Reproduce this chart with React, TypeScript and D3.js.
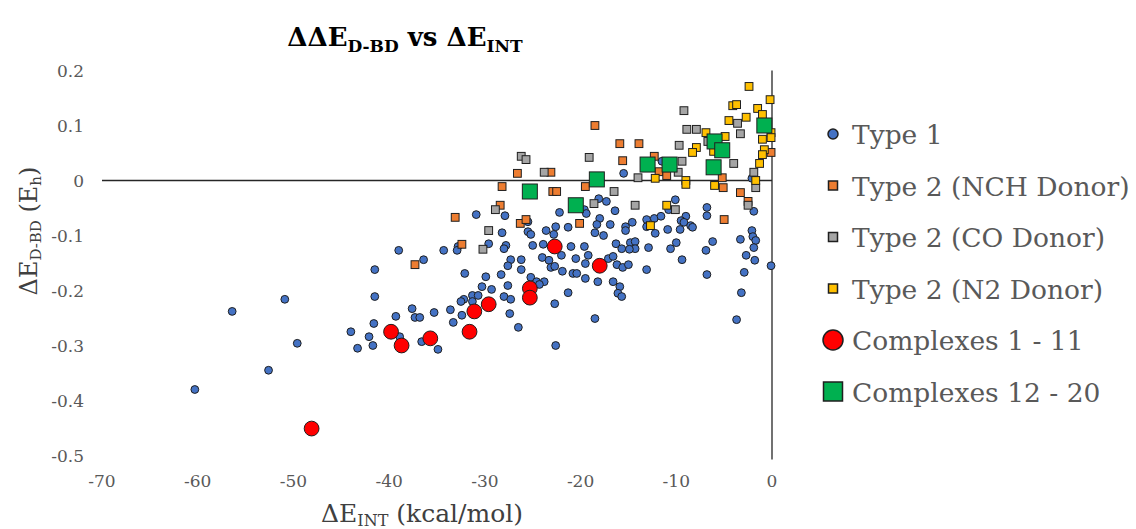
import React, { useRef, useEffect } from "react";
import * as d3 from "d3";

// [ΔE_INT (kcal/mol), ΔE_D-BD (Eh)]
const type1 = [
  [-41.5, -0.162], [-41.5, -0.211], [-50.9, -0.216], [-56.4, -0.238], [-41.6, -0.26],
  [-44.0, -0.275], [-42.1, -0.284], [-49.6, -0.296], [-43.3, -0.305], [-41.7, -0.3],
  [-52.6, -0.345], [-60.3, -0.38], [-30.9, -0.062], [-27.9, -0.064], [-28.2, -0.095],
  [-32.8, -0.12], [-29.6, -0.115], [-27.8, -0.118], [-28.0, -0.124], [-34.3, -0.127],
  [-32.9, -0.127], [-39.0, -0.127], [-36.4, -0.144], [-27.3, -0.144], [-27.6, -0.155],
  [-32.1, -0.169], [-29.9, -0.175], [-28.3, -0.171], [-30.3, -0.193], [-29.3, -0.198],
  [-27.6, -0.191], [-31.3, -0.209], [-30.7, -0.209], [-32.2, -0.216], [-32.5, -0.22],
  [-31.3, -0.22], [-28.0, -0.211], [-27.3, -0.216], [-37.6, -0.233], [-33.6, -0.235],
  [-39.3, -0.247], [-37.3, -0.249], [-36.8, -0.249], [-35.3, -0.24], [-32.4, -0.245],
  [-27.4, -0.242], [-33.3, -0.258], [-38.9, -0.284], [-36.6, -0.293], [-34.9, -0.307],
  [-15.5, 0.013], [-18.1, -0.033], [-17.3, -0.038], [-19.6, -0.053], [-19.4, -0.06],
  [-22.2, -0.058], [-16.4, -0.055], [-25.5, -0.075], [-18.0, -0.069], [-18.3, -0.08],
  [-16.9, -0.08], [-22.6, -0.084], [-21.3, -0.085], [-15.3, -0.084], [-14.6, -0.076],
  [-13.1, -0.071], [-23.6, -0.091], [-25.5, -0.093], [-25.2, -0.098], [-22.8, -0.098],
  [-18.5, -0.095], [-17.6, -0.1], [-15.3, -0.091], [-25.0, -0.118], [-23.9, -0.116],
  [-21.0, -0.12], [-19.6, -0.12], [-16.3, -0.115], [-15.7, -0.124], [-14.8, -0.113],
  [-14.3, -0.111], [-14.3, -0.124], [-14.9, -0.125], [-12.9, -0.122], [-24.0, -0.14],
  [-22.0, -0.136], [-19.2, -0.136], [-20.5, -0.142], [-26.2, -0.144], [-23.3, -0.145],
  [-17.1, -0.142], [-16.6, -0.138], [-16.2, -0.153], [-15.6, -0.158], [-15.0, -0.153],
  [-13.1, -0.162], [-23.1, -0.158], [-22.7, -0.156], [-19.5, -0.151], [-26.2, -0.162],
  [-21.9, -0.165], [-20.8, -0.169], [-20.4, -0.169], [-19.5, -0.178], [-18.2, -0.184],
  [-16.6, -0.184], [-25.2, -0.176], [-24.6, -0.184], [-23.8, -0.184], [-24.3, -0.189],
  [-21.3, -0.204], [-15.9, -0.193], [-16.1, -0.205], [-15.7, -0.211], [-22.7, -0.224],
  [-18.5, -0.251], [-26.5, -0.267], [-22.6, -0.3], [-10.1, -0.035], [-10.8, -0.053],
  [-6.8, -0.049], [-6.8, -0.064], [-12.3, -0.069], [-11.6, -0.065], [-9.0, -0.065],
  [-9.5, -0.073], [-9.2, -0.076], [-8.5, -0.082], [-8.3, -0.085], [-13.1, -0.084],
  [-12.2, -0.096], [-10.9, -0.089], [-9.6, -0.089], [-2.1, -0.091], [-2.0, -0.102],
  [-1.7, -0.109], [-3.3, -0.107], [-6.2, -0.111], [-10.0, -0.113], [-10.6, -0.124],
  [-6.9, -0.127], [-1.9, -0.122], [-2.7, -0.136], [-1.8, -0.145], [-9.4, -0.144],
  [-6.8, -0.171], [-2.9, -0.167], [-0.1, -0.155], [-3.2, -0.204], [-3.7, -0.253],
  [-1.9, -0.056], [-11.5, 0.035], [-2.1, 0.004],
];

const type2NCH = [
  [-28.2, -0.011], [-28.4, -0.045], [-33.1, -0.067], [-26.3, -0.078], [-25.7, -0.071],
  [-32.4, -0.116], [-37.3, -0.153], [-26.6, 0.013], [-23.1, 0.015], [-19.5, -0.011],
  [-22.9, -0.02], [-22.5, -0.02], [-20.1, -0.078], [-18.5, 0.1], [-15.9, 0.067],
  [-13.9, 0.067], [-15.6, 0.036], [-12.3, 0.044], [-11.8, 0.016], [-11.0, 0.009],
  [-5.2, 0.005], [-5.1, -0.013], [-3.3, -0.022], [-2.5, -0.038], [-5.0, -0.071],
  [-0.1, 0.051],
];

const type2CO = [
  [-28.9, -0.053], [-29.6, -0.091], [-30.2, -0.125], [-26.2, 0.044], [-25.7, 0.038],
  [-23.8, 0.015], [-19.1, 0.042], [-16.5, -0.02], [-18.6, -0.042], [-14.0, 0.005],
  [-14.3, -0.045], [-10.1, -0.053], [-9.8, 0.015], [-9.4, 0.035], [-9.2, 0.127],
  [-8.9, 0.093], [-7.9, 0.093], [-6.7, 0.071], [-9.7, 0.064], [-4.0, 0.031],
  [-3.6, 0.104], [-3.3, 0.085], [-1.9, 0.015], [-1.7, -0.013], [-2.5, -0.045],
];

const type2N2 = [
  [-2.4, 0.171], [-0.2, 0.147], [-4.1, 0.136], [-3.7, 0.138], [-1.5, 0.131],
  [-1.0, 0.12], [-2.7, 0.115], [-4.5, 0.109], [-6.9, 0.087], [-0.1, 0.087],
  [-0.1, 0.078], [-4.9, 0.08], [-1.0, 0.075], [-7.9, 0.06], [-8.3, 0.051],
  [-6.1, 0.053], [-0.8, 0.056], [-1.0, 0.047], [-1.3, 0.031], [-12.2, 0.004],
  [-1.7, 0.0], [-9.0, 0.0], [-9.0, -0.007], [-6.0, -0.009], [-11.0, -0.045],
  [-12.7, -0.082],
];

const complexes1to11 = [
  [-48.1, -0.451], [-39.8, -0.275], [-38.7, -0.3], [-35.7, -0.287], [-31.6, -0.275],
  [-31.1, -0.238], [-29.6, -0.225], [-25.3, -0.196], [-25.3, -0.213], [-22.7, -0.12],
  [-18.0, -0.155],
];

const complexes12to20 = [
  [-25.3, -0.02], [-20.5, -0.045], [-18.3, 0.002], [-13.0, 0.029], [-10.7, 0.029],
  [-6.1, 0.024], [-6.0, 0.071], [-5.2, 0.055], [-0.8, 0.1],
];

const legendLabels = [
  "Type 1",
  "Type 2 (NCH Donor)",
  "Type 2 (CO Donor)",
  "Type 2 (N2 Donor)",
  "Complexes 1 - 11",
  "Complexes 12 - 20",
];

const FONT = "'DejaVu Serif', serif";

const App = () => {
  const ref = useRef(null);

  useEffect(() => {
    const width = 1136;
    const height = 529;

    const svg = d3.select(ref.current).attr("width", width).attr("height", height);
    svg.selectAll("*").remove();

    const x = d3.scaleLinear().domain([-70, 0]).range([102, 772]);
    const y = d3.scaleLinear().domain([-0.5, 0.2]).range([455.5, 70.5]);

    // tick labels
    svg.append("g")
      .selectAll("text")
      .data(x.ticks(7))
      .join("text")
      .attr("x", (d) => x(d))
      .attr("y", 487)
      .attr("text-anchor", "middle")
      .attr("font-family", FONT)
      .attr("font-size", 17)
      .attr("fill", "#595959")
      .text((d) => String(d));

    svg.append("g")
      .selectAll("text")
      .data(d3.range(-0.5, 0.21, 0.1).map((v) => +v.toFixed(1)))
      .join("text")
      .attr("x", 84)
      .attr("y", (d) => y(d) + 6)
      .attr("text-anchor", "end")
      .attr("font-family", FONT)
      .attr("font-size", 17)
      .attr("fill", "#595959")
      .text((d) => String(d));

    // axis lines crossing at 0
    svg.append("line")
      .attr("x1", x(-70)).attr("x2", x(0))
      .attr("y1", y(0)).attr("y2", y(0))
      .attr("stroke", "#262626").attr("stroke-width", 1.3);
    svg.append("line")
      .attr("x1", x(0)).attr("x2", x(0))
      .attr("y1", y(0.2)).attr("y2", y(-0.5) + 4)
      .attr("stroke", "#262626").attr("stroke-width", 1.3);

    const stroke = "#1f1f1f";

    const circles = (data, r, fill) =>
      svg.append("g")
        .selectAll("circle")
        .data(data)
        .join("circle")
        .attr("cx", (d) => x(d[0]))
        .attr("cy", (d) => y(d[1]))
        .attr("r", r)
        .attr("fill", fill)
        .attr("stroke", stroke)
        .attr("stroke-width", 1);

    const squares = (data, s, fill) =>
      svg.append("g")
        .selectAll("rect")
        .data(data)
        .join("rect")
        .attr("x", (d) => x(d[0]) - s / 2)
        .attr("y", (d) => y(d[1]) - s / 2)
        .attr("width", s)
        .attr("height", s)
        .attr("fill", fill)
        .attr("stroke", stroke)
        .attr("stroke-width", 1);

    circles(type1, 3.9, "#4472C4");
    squares(type2NCH, 7.8, "#ED7D31");
    squares(type2CO, 7.8, "#A5A5A5");
    squares(type2N2, 7.8, "#FFC000");
    circles(complexes1to11, 7.4, "#FF0000");
    squares(complexes12to20, 15, "#00B050");

    // legend
    const legend = [
      { shape: "circle", size: 5, fill: "#4472C4" },
      { shape: "square", size: 9, fill: "#ED7D31" },
      { shape: "square", size: 9, fill: "#A5A5A5" },
      { shape: "square", size: 9, fill: "#FFC000" },
      { shape: "circle", size: 10, fill: "#FF0000" },
      { shape: "square", size: 19, fill: "#00B050" },
    ];
    const lg = svg.append("g");
    legend.forEach((m, i) => {
      const cy = 134 + i * 51.5;
      if (m.shape === "circle") {
        lg.append("circle").attr("cx", 833).attr("cy", cy).attr("r", m.size)
          .attr("fill", m.fill).attr("stroke", stroke).attr("stroke-width", 1.5);
      } else {
        lg.append("rect").attr("x", 833 - m.size / 2).attr("y", cy - m.size / 2)
          .attr("width", m.size).attr("height", m.size)
          .attr("fill", m.fill).attr("stroke", stroke).attr("stroke-width", 1.5);
      }
      lg.append("text")
        .attr("x", 852)
        .attr("y", cy + 10)
        .attr("font-family", FONT)
        .attr("font-size", 26.5)
        .attr("fill", "#595959")
        .text(legendLabels[i]);
    });

    // title
    const title = svg.append("text")
      .attr("x", 405).attr("y", 46)
      .attr("text-anchor", "middle")
      .attr("font-family", FONT)
      .attr("font-weight", "bold")
      .attr("font-size", 26)
      .attr("fill", "#000");
    title.append("tspan").text("ΔΔE");
    title.append("tspan").attr("font-size", 17).attr("dy", 6).text("D-BD");
    title.append("tspan").attr("dy", -6).text(" vs  ΔE");
    title.append("tspan").attr("font-size", 17).attr("dy", 6).text("INT");

    // x axis title
    const xt = svg.append("text")
      .attr("x", 422).attr("y", 522)
      .attr("text-anchor", "middle")
      .attr("font-family", FONT)
      .attr("font-size", 25)
      .attr("fill", "#404040");
    xt.append("tspan").text("ΔE");
    xt.append("tspan").attr("font-size", 16).attr("dy", 4).text("INT");
    xt.append("tspan").attr("dy", -4).text(" (kcal/mol)");

    // y axis title
    const yt = svg.append("text")
      .attr("transform", "translate(37,231) rotate(-90)")
      .attr("text-anchor", "middle")
      .attr("font-family", FONT)
      .attr("font-size", 24)
      .attr("fill", "#404040");
    yt.append("tspan").text("ΔE");
    yt.append("tspan").attr("font-size", 15).attr("dy", 4).text("D-BD");
    yt.append("tspan").attr("dy", -4).text(" (E");
    yt.append("tspan").attr("font-size", 15).attr("dy", 4).text("h");
    yt.append("tspan").attr("dy", -4).text(")");
  }, []);

  return (
    <svg
      ref={ref}
      width={1136}
      height={529}
      style={{ position: "absolute", left: 0, top: 0, background: "#fff" }}
    />
  );
};

export default App;
